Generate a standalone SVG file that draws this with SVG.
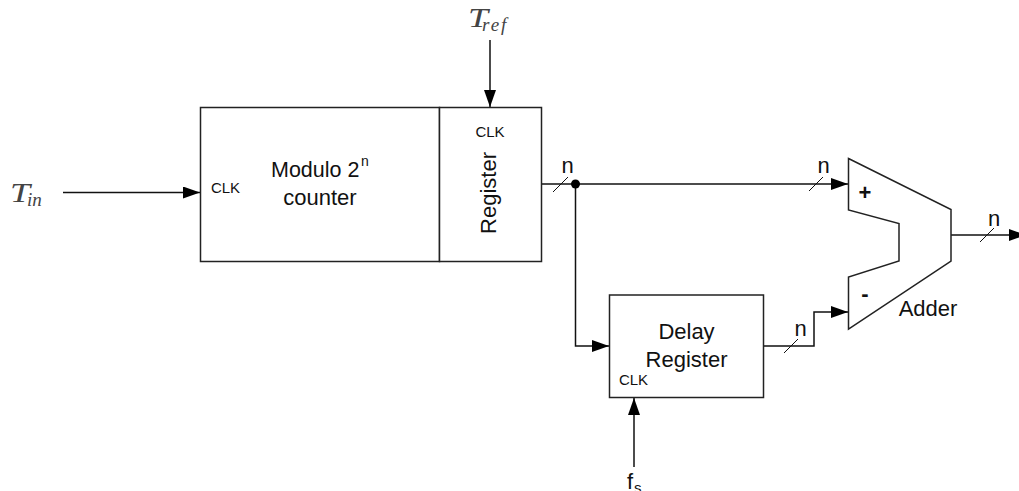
<svg xmlns="http://www.w3.org/2000/svg" width="1019" height="491" viewBox="0 0 1019 491">
<style>
.b{fill:#fff;stroke:#222;stroke-width:1.5}
.c{fill:none;stroke:#111;stroke-width:1.5}
.t{fill:none;stroke:#111;stroke-width:1}
text{font-family:"Liberation Sans",Arial,sans-serif;fill:#111}
.l{font-size:22px;text-anchor:middle}
.s{font-size:15px;text-anchor:middle}
.m{font-family:"Liberation Serif","Times New Roman",serif;font-style:italic;fill:#444}
.mt{font-size:28px}
.ms{font-size:19px}
</style>
<defs><marker id="a" markerUnits="userSpaceOnUse" markerWidth="17" markerHeight="12" refX="17" refY="6" orient="auto"><path d="M0 0L17 6L0 12Z" fill="#000"/></marker></defs>
<rect width="1019" height="491" fill="#fff"/>
<g id="connectors">
<path class="c" d="M63 192.500H200" marker-end="url(#a)"/>
<path class="c" d="M490 40V107" marker-end="url(#a)"/>
<path class="c" d="M541 184H848" marker-end="url(#a)"/>
<path class="c" d="M575.500 184V346H609" marker-end="url(#a)"/>
<path class="c" d="M763 346H814V312H848" marker-end="url(#a)"/>
<path class="c" d="M951 235H1026" marker-end="url(#a)"/>
<path class="c" d="M634 467V398" marker-end="url(#a)"/>
<circle cx="575.500" cy="184" r="4.500" fill="#000"/>
<path class="t" d="M553 192L568 177M809 191L823 177M784 353L798 339M980 242L994 228"/>
<text class="l" x="567.500" y="173">n</text>
<text class="l" x="823.500" y="173">n</text>
<text class="l" x="800.500" y="336">n</text>
<text class="l" x="994" y="226">n</text>
</g>
<g id="counter">
<rect class="b" x="200.500" y="107.500" width="239" height="154"/>
<text x="271" y="177" font-size="21.500px">Modulo 2</text>
<text x="361" y="166" font-size="14px">n</text>
<text class="l" x="320" y="205">counter</text>
<text class="s" x="225.500" y="193">CLK</text>
</g>
<g id="register">
<rect class="b" x="439.500" y="107.500" width="102" height="154"/>
<text class="s" x="490" y="137">CLK</text>
<text class="l" transform="translate(496 193) rotate(-90)">Register</text>
</g>
<g id="delay-register">
<rect class="b" x="609.500" y="295" width="154" height="102.500"/>
<text class="l" x="686.500" y="339">Delay</text>
<text class="l" x="686.500" y="367">Register</text>
<text class="s" x="633.500" y="385">CLK</text>
</g>
<g id="adder">
<path class="b" d="M848.500 158.500L951 209.500V261L848.500 329V277L899 261V223.500L848.500 210Z"/>
<text x="865" y="200" font-size="22" text-anchor="middle" font-weight="bold">+</text>
<text x="865" y="301" font-size="22" text-anchor="middle" font-weight="bold">-</text>
<text class="l" x="928" y="316">Adder</text>
</g>
<g id="t-in"><text class="m mt" x="10" y="202" textLength="20" lengthAdjust="spacingAndGlyphs">T</text><text class="m ms" x="27" y="206">in</text></g>
<g id="t-ref"><text class="m mt" x="468" y="27" textLength="20" lengthAdjust="spacingAndGlyphs">T</text><text class="m ms" x="482" y="31" letter-spacing="2">ref</text></g>
<g id="fs"><text x="627" y="489" font-size="22">f</text><text x="634" y="493" font-size="15">s</text></g>
</svg>
